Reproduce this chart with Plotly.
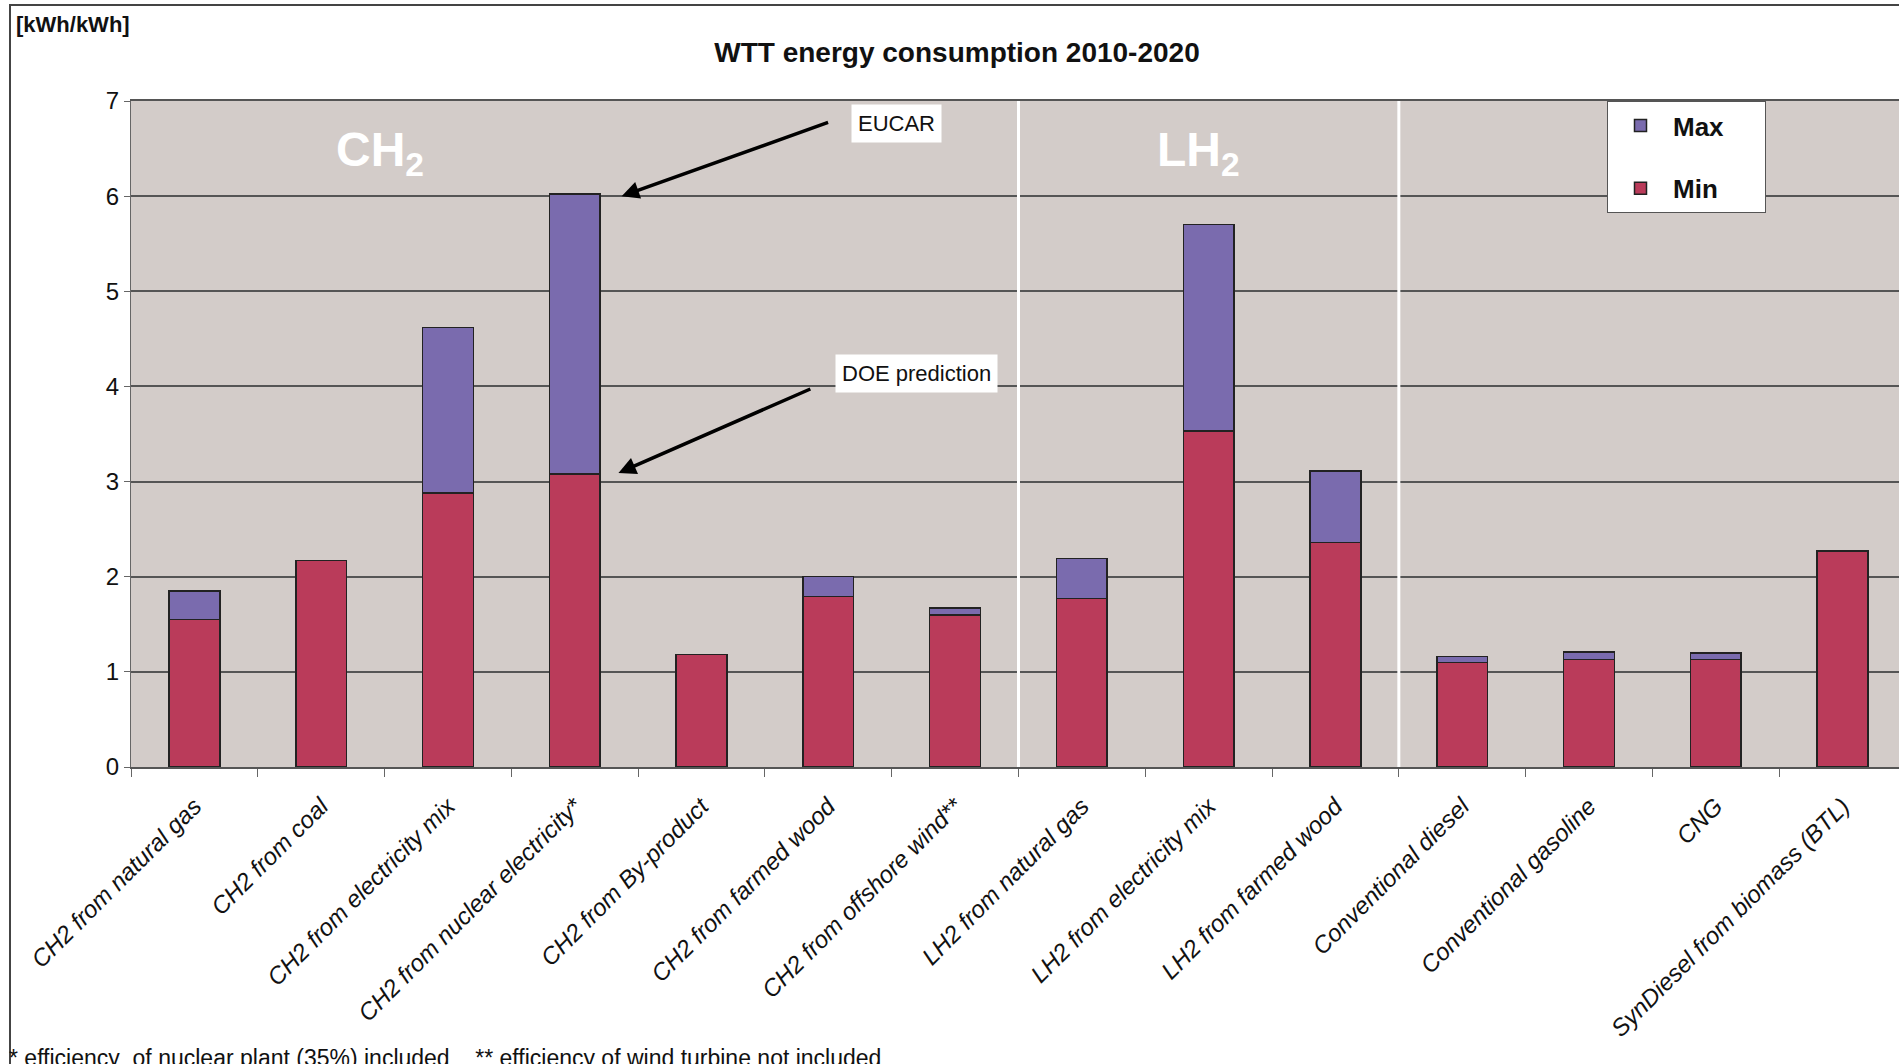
import plotly.graph_objects as go

categories = [
    "CH2 from natural gas", "CH2 from coal", "CH2 from electricity mix",
    "CH2 from nuclear electricity*", "CH2 from By-product", "CH2 from farmed wood",
    "CH2 from offshore wind**", "LH2 from natural gas", "LH2 from electricity mix",
    "LH2 from farmed wood", "Conventional diesel", "Conventional gasoline",
    "CNG", "SynDiesel from biomass (BTL)",
]
min_values = [1.55, 2.17, 2.88, 3.08, 1.18, 1.79, 1.60, 1.77, 3.53, 2.36, 1.10, 1.13, 1.13, 2.27]
max_values = [1.85, 2.17, 4.62, 6.02, 1.18, 2.00, 1.67, 2.19, 5.70, 3.11, 1.16, 1.21, 1.20, 2.27]

FONT = "Liberation Sans, Arial, sans-serif"
W, H = 1899, 1064
L, T, B = 131, 101, 297


def px_x(x):
    return (x - L) / (W - L)


def px_y(y):
    return (H - B - y) / (H - B - T)


fig = go.Figure()

fig.add_trace(go.Bar(
    x=categories,
    y=min_values,
    name="Min&nbsp;&nbsp;&nbsp;&nbsp;&nbsp;",
    marker=dict(color="#BA3B5A", line=dict(color="#222222", width=1.5)),
    width=0.4,
    legendgroup="min",
    legendrank=2,
))

fig.add_trace(go.Bar(
    x=categories,
    y=[mx - mn for mx, mn in zip(max_values, min_values)],
    name="Max&nbsp;&nbsp;&nbsp;&nbsp;&nbsp;",
    marker=dict(color="#7A6BAE", line=dict(color="#222222", width=1.5)),
    width=0.4,
    legendgroup="max",
    legendrank=1,
))

# group separators
for xs in [6.5, 9.5]:
    fig.add_shape(type="line", x0=xs, x1=xs, y0=0, y1=7, xref="x", yref="y",
                  line=dict(color="white", width=3), layer="above")

# outer frame
fig.add_shape(type="rect", xref="paper", yref="paper",
              x0=px_x(10), x1=1.02, y0=px_y(5), y1=-0.6,
              line=dict(color="#444444", width=2))

fig.add_annotation(x=1.46, y=6.45, xref="x", yref="y",
                   text="<b>CH<sub>2</sub></b>", showarrow=False,
                   font=dict(family=FONT, size=48, color="white"))
fig.add_annotation(x=7.92, y=6.45, xref="x", yref="y",
                   text="<b>LH<sub>2</sub></b>", showarrow=False,
                   font=dict(family=FONT, size=48, color="white"))

fig.add_annotation(x=3.37, y=6.0, ax=5.01, ay=6.78, xref="x", yref="y",
                   axref="x", ayref="y", text="", showarrow=True,
                   arrowhead=2, arrowsize=1, arrowwidth=3.5, arrowcolor="black")
fig.add_annotation(x=5.18, y=6.76, xref="x", yref="y", xanchor="left",
                   text="EUCAR", showarrow=False, bgcolor="white", borderpad=6,
                   font=dict(family=FONT, size=22, color="#111111"))

fig.add_annotation(x=3.345, y=3.09, ax=4.87, ay=3.98, xref="x", yref="y",
                   axref="x", ayref="y", text="", showarrow=True,
                   arrowhead=2, arrowsize=1, arrowwidth=3.5, arrowcolor="black")
fig.add_annotation(x=5.05, y=4.14, xref="x", yref="y", xanchor="left",
                   text="DOE prediction", showarrow=False, bgcolor="white", borderpad=6,
                   font=dict(family=FONT, size=22, color="#111111"))

fig.add_annotation(x=px_x(14), y=px_y(25), xref="paper", yref="paper",
                   xanchor="left", yanchor="middle", showarrow=False,
                   text="<b>[kWh/kWh]</b>", font=dict(family=FONT, size=22, color="#111111"))

fig.add_annotation(x=px_x(7), y=px_y(1058), xref="paper", yref="paper",
                   xanchor="left", yanchor="middle", showarrow=False,
                   text="* efficiency  of nuclear plant (35%) included    ** efficiency of wind turbine not included",
                   font=dict(family=FONT, size=23, color="#111111"))

fig.update_layout(
    width=W, height=H,
    margin=dict(l=L, r=0, t=T, b=B),
    barmode="stack",
    paper_bgcolor="white",
    plot_bgcolor="#D3CCC9",
    title=dict(text="<b>WTT energy consumption 2010-2020</b>", x=957 / W, y=1 - 52 / H,
               xanchor="center", yanchor="middle",
               font=dict(family=FONT, size=28, color="#111111")),
    legend=dict(
        x=px_x(1607), y=1.0, xanchor="left", yanchor="top",
        bgcolor="white", bordercolor="#555555", borderwidth=1,
        traceorder="grouped", tracegroupgap=26,
        itemwidth=55,
        font=dict(family=FONT, size=26, color="#111111", weight="bold"),
    ),
    xaxis=dict(
        range=[-0.5, 13.445],
        tickangle=-45,
        ticks="outside", tickson="boundaries", ticklen=8, tickcolor="#666666",
        showline=True, linecolor="#555555", linewidth=1.5, mirror=True,
        showgrid=False,
        ticklabelstandoff=14,
        tickfont=dict(family=FONT, size=24, color="#111111", style="italic"),
    ),
    yaxis=dict(
        range=[0, 7], dtick=1,
        showgrid=True, gridcolor="#555555", gridwidth=1.5,
        zeroline=False,
        ticks="outside", ticklen=6, tickcolor="#666666",
        showline=True, linecolor="#666666", linewidth=1,
        tickfont=dict(family=FONT, size=24, color="#111111"),
    ),
)

fig.write_html("out.html", config={"displayModeBar": False},
               post_script="document.body.style.margin='0px';")
